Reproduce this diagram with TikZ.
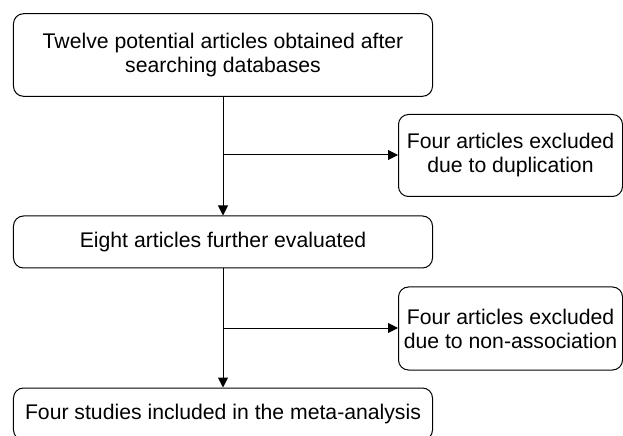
\documentclass[tikz,border=0pt]{standalone}
\usepackage{fontspec}
\setmainfont{Liberation Sans}
\usetikzlibrary{arrows.meta}
\begin{document}
\begin{tikzpicture}[x=1bp,y=-1bp,
  box/.style={draw=black, line width=1bp, rounded corners=10bp, align=center,
    inner sep=0pt, font=\fontsize{21.2bp}{24bp}\selectfont, text=black},
  conn/.style={draw=black, line width=1bp, -{Triangle[length=10bp,width=10bp]}}]
\clip (0,0) rectangle (623,436);
\useasboundingbox (0,0) rectangle (623,436);
\node[box, minimum width=419bp, minimum height=82.6bp] (b1) at (223,55) {Twelve potential articles obtained after\\searching databases};
\node[box, minimum width=224bp, minimum height=82bp] (e1) at (510.5,155.5) {Four articles excluded\\due to duplication};
\node[box, minimum width=419bp, minimum height=52bp] (b2) at (223,242) {Eight articles further evaluated};
\node[box, minimum width=224bp, minimum height=83bp] (e2) at (510.5,328.5) {Four articles excluded\\due to non-association};
\node[box, minimum width=419bp, minimum height=52bp] (b3) at (223,414) {Four studies included in the meta-analysis};
\coordinate (j1) at (b1.south |- 0,155);
\coordinate (j2) at (b2.south |- 0,328);
\draw[conn] (b1.south) -- (b2.north);
\draw[conn] (j1) -- (j1 -| e1.west);
\draw[conn] (b2.south) -- (b3.north);
\draw[conn] (j2) -- (j2 -| e2.west);
\end{tikzpicture}
\end{document}
